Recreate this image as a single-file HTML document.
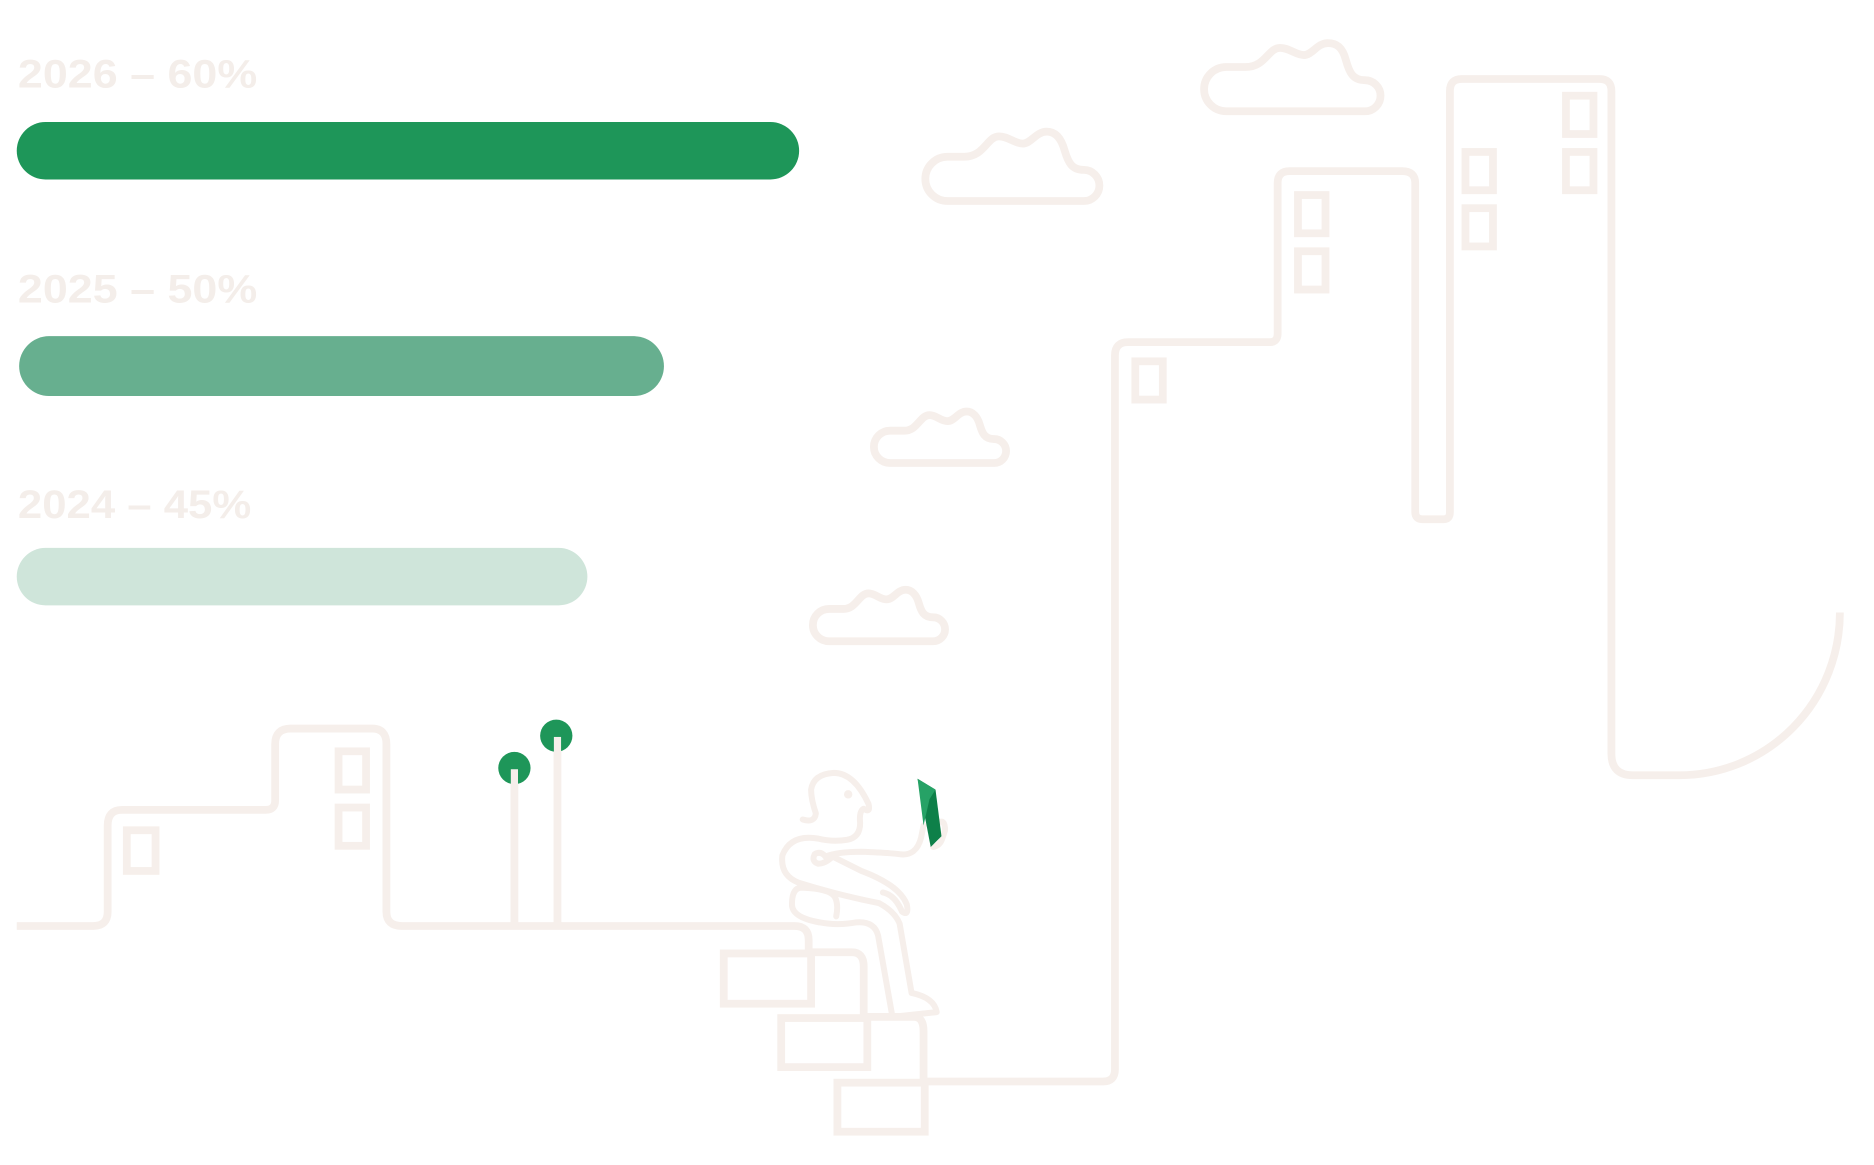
<!DOCTYPE html>
<html><head><meta charset="utf-8"><style>
html,body{margin:0;padding:0;background:#fff;}
svg{display:block;}
</style></head><body>
<svg width="1874" height="1165" viewBox="0 0 1566.5 973.8" xmlns="http://www.w3.org/2000/svg">
<g font-family="Liberation Sans, sans-serif" font-weight="bold" font-size="33" fill="#f4eeea">
<text x="15" y="73" textLength="200" lengthAdjust="spacingAndGlyphs">2026 – 60%</text>
<text x="15" y="253" textLength="200" lengthAdjust="spacingAndGlyphs">2025 – 50%</text>
<text x="15" y="433" textLength="195" lengthAdjust="spacingAndGlyphs">2024 – 45%</text>
</g>
<rect x="14" y="102" width="654" height="48" rx="24" fill="#1e9659"/>
<rect x="16" y="281" width="539" height="50" rx="25" fill="#67af8f"/>
<rect x="14" y="458" width="477" height="48" rx="24" fill="#cfe5da"/>

<g fill="none" stroke="#f6efeb" stroke-width="6.5" stroke-linejoin="round">
<path d="M14,774 H78 Q90,774 90,762 V690 Q90,677 102,677 H222 Q230,677 230,669 V622 Q230,609 243,609 H311 Q323,609 323,622 V762 Q323,774 336,774 H664 Q676,774 676,786 V796"/>
<path d="M676,796 H712 Q722,796 722,808 V850"/>
<path d="M722,850 H764 Q772,850 772,862 V904"/>
<path d="M772,904 H922 Q932,904 932,894 V297 Q932,286 943,286 H1061 Q1068,286 1068,279 V153 Q1068,143 1078,143 H1172 Q1183,143 1183,153 V428 Q1183,434 1189,434 H1207 Q1212,434 1212,428 V76 Q1212,66 1222,66 H1337 Q1347,66 1347,76 V630 Q1347,648 1365,648 H1404 A134,136 0 0 0 1538,512"/>
<g stroke-linejoin="miter">
<rect x="605" y="797" width="73" height="42"/>
<rect x="653" y="851" width="72" height="41"/>
<rect x="700" y="905" width="73" height="41"/>
<rect x="106" y="694" width="24" height="34"/>
<rect x="283" y="628" width="23" height="32"/>
<rect x="283" y="675" width="23" height="32"/>
<rect x="949" y="302" width="23" height="32"/>
<rect x="1085" y="163" width="23" height="32"/>
<rect x="1085" y="210" width="23" height="32"/>
<rect x="1225" y="127" width="23" height="32"/>
<rect x="1225" y="174" width="23" height="32"/>
<rect x="1309" y="80" width="23" height="32"/>
<rect x="1309" y="127" width="23" height="32"/>
</g>
<path d="M792,168 H906 A12,12 0 0 0 906,142 C896,142 893,136 890,126 C887,115 882,110 875,110 C866,110 862,120 855,120 C848,120 843,114 835,114 C825,114 823,131 806,131 H792 A18.5,18.5 0 0 0 792,168 Z"/>
<path d="M1025,93 H1141 A12,12 0 0 0 1141,67 C1131,67 1128,61 1125,50 C1122,39 1117,36 1110,36 C1101,36 1097,46 1090,46 C1083,46 1078,40 1070,40 C1060,40 1058,56 1041,56 H1025 A18.5,18.5 0 0 0 1025,93 Z"/>
<path d="M744,387 H831 A10,10 0 0 0 831,367 C823,367 821,362 819,355 C817,348 813,344 808,344 C801,344 798,352 792,352 C786,352 783,347 777,347 C769,347 767,360 756,360 H744 A13.5,13.5 0 0 0 744,387 Z"/>
<path d="M693,536 H780 A10,10 0 0 0 780,516 C772,516 770,511 768,504 C766,497 762,493 757,493 C750,493 747,501 741,501 C735,501 732,496 726,496 C718,496 716,509 705,509 H693 A13.5,13.5 0 0 0 693,536 Z"/>
<line x1="430" y1="643" x2="430" y2="774"/>
<line x1="466" y1="616" x2="466" y2="774"/>
<g stroke-width="5" stroke-linecap="round">
<path d="M671,685 Q681,688 682,680 Q678,668 678,660 Q680,647 697,646 Q714,646 726,672 Q728,680 722,676 Q718,678 719,688 Q719,700 708,702 Q696,704 684,701 Q661,697 654,715 Q652,732 668,738 Q700,748 735,755 Q748,762 752,772 L762,830 Q781,834 783,846 L746,850 L734,782 Q731,770 716,771 Q700,774 685,771 Q662,767 662,756 Q662,742 670,742 Q694,743 698,750 Q701,756 699,766"/>
<path d="M690,716 Q700,712 720,712 Q745,713 752,714 Q766,716 770,700 L772,690"/>
<path d="M690,716 Q686,711 681,714 Q678,720 684,722 Q690,722 696,716 L720,728 Q752,740 758,756 Q760,766 754,762 Q748,748 738,746"/>
<path d="M784,688 Q790,684 790,694 L788,700 Q786,707 780,708"/>
</g>
</g>
<circle cx="709" cy="664" r="3.5" fill="#f6efeb"/>
<circle cx="430" cy="642" r="13.5" fill="#1e9659"/>
<circle cx="465" cy="615" r="13.5" fill="#1e9659"/>
<line x1="430" y1="643" x2="430" y2="660" stroke="#f6efeb" stroke-width="6"/>
<line x1="466" y1="616" x2="466" y2="632" stroke="#f6efeb" stroke-width="6"/>
<polygon points="767,651 782,660 787,699 778,708" fill="#0e8049"/>
<polygon points="767,651 782,660 777,668 772,690" fill="#26a266"/>
</svg>
</body></html>
